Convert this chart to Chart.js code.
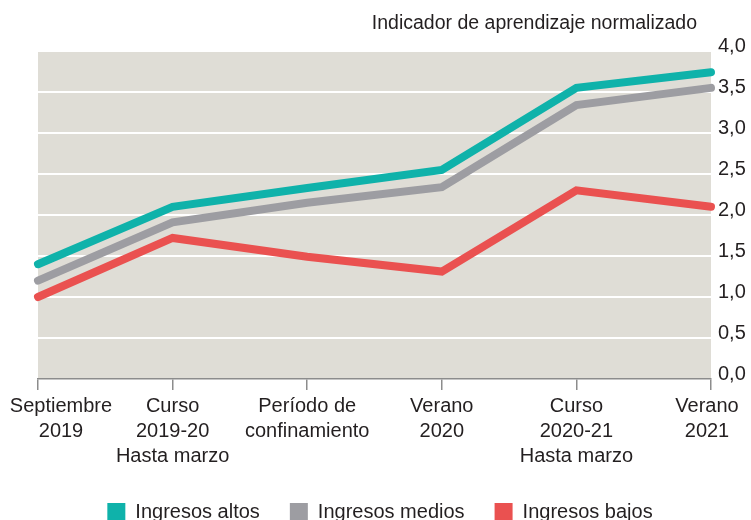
<!DOCTYPE html>
<html><head><meta charset="utf-8">
<script src="https://cdn.jsdelivr.net/npm/chart.js@4"></script>
<style>html,body{margin:0;padding:0;background:#fff}#wrap{width:751px;height:520px;position:relative}</style>
</head><body><div id="wrap"><canvas id="c" width="751" height="520"></canvas></div>
<script>
const categories = [['Septiembre','2019'],['Curso','2019-20','Hasta marzo'],['Período de','confinamiento'],['Verano','2020'],['Curso','2020-21','Hasta marzo'],['Verano','2021']];
const ingresosAltos = [1.40, 2.10, 2.33, 2.55, 3.55, 3.74];
const ingresosMedios = [1.20, 1.91, 2.15, 2.34, 3.34, 3.55];
const ingresosBajos = [1.00, 1.72, 1.49, 1.31, 2.30, 2.10];
const yTickLabels = ['0,0','0,5','1,0','1,5','2,0','2,5','3,0','3,5','4,0'];
const seriesNames = ['Ingresos altos','Ingresos medios','Ingresos bajos'];
const seriesColors = ['#0fb2aa','#9d9da2','#ea5150'];
const axisTitle = 'Indicador de aprendizaje normalizado';

const FAMILY = "'Liberation Sans', Arial, sans-serif";
const TEXT = '#231f20';

const bgPlugin = {
  id: 'bg',
  beforeDraw(chart) {
    const {ctx, chartArea: a} = chart;
    ctx.save();
    ctx.fillStyle = '#dfddd6';
    ctx.fillRect(a.left, a.top, a.right - a.left, a.bottom - a.top);
    ctx.restore();
    const sx = chart.scales.x;
    const items = sx.getLabelItems(a);
    if (!items._shifted && items.length) {
      items[0].options.translation[0] += 23;
      items[items.length - 1].options.translation[0] -= 4;
      items._shifted = true;
    }
    const lg = chart.legend;
    if (lg && !lg._shifted) {
      const c = (lg.left + lg.right) / 2;
      const d = 380 - c;
      lg.left += d; lg.right += d;
      lg._shifted = true;
    }
  },
  afterDraw(chart) {
    const ctx = chart.ctx;
    ctx.save();
    ctx.font = "19.5px " + FAMILY;
    ctx.fillStyle = TEXT;
    ctx.textAlign = 'right';
    ctx.textBaseline = 'middle';
    ctx.fillText(axisTitle, 697, 24);
    ctx.restore();
  }
};

const datasets = [ingresosAltos, ingresosMedios, ingresosBajos].map((d, i) => ({
  label: seriesNames[i],
  data: d,
  borderColor: seriesColors[i],
  backgroundColor: seriesColors[i],
  borderWidth: 8,
  borderCapStyle: 'round',
  borderJoinStyle: 'miter',
  tension: 0,
  pointRadius: 0,
  pointHoverRadius: 0,
  clip: false
}));

new Chart(document.getElementById('c'), {
  type: 'line',
  data: { labels: categories, datasets },
  options: {
    responsive: false,
    devicePixelRatio: 1,
    animation: false,
    layout: { autoPadding: false, padding: { top: 51, left: 38, right: 0, bottom: -12 } },
    scales: {
      x: {
        type: 'category',
        offset: false,
        grid: { display: true, drawOnChartArea: false, drawTicks: true, tickLength: 11, color: '#8c8c8c', lineWidth: 1.5 },
        border: { display: true, color: '#8c8c8c', width: 1.5 },
        ticks: { font: { family: FAMILY, size: 20, lineHeight: 1.25 }, color: TEXT, padding: 4, maxRotation: 0, autoSkip: false },
        afterFit(s) { s.height = 93; s.paddingLeft = 0; s.paddingRight = 0; }
      },
      y: {
        position: 'right',
        min: 0, max: 4,
        ticks: {
          stepSize: 0.5, padding: 7, labelOffset: -5,
          callback: (v, i) => yTickLabels[i],
          font: { family: FAMILY, size: 20 }, color: TEXT
        },
        grid: { color: (c) => (c.tick && c.tick.value === 0) ? 'rgba(0,0,0,0)' : '#ffffff', lineWidth: 2, drawTicks: false },
        border: { display: false },
        afterFit(s) { s.width = 40; s.paddingTop = 0; s.paddingBottom = 0; }
      }
    },
    plugins: {
      tooltip: { enabled: false },
      legend: {
        position: 'bottom',
        labels: {
          boxWidth: 18, boxHeight: 18, padding: 30,
          font: { family: FAMILY, size: 20 }, color: TEXT,
          generateLabels: (chart) => chart.data.datasets.map((ds, i) => ({
            text: ds.label, fillStyle: ds.borderColor, strokeStyle: ds.borderColor,
            lineWidth: 0, hidden: false, datasetIndex: i, fontColor: TEXT
          }))
        }
      }
    }
  },
  plugins: [bgPlugin]
});
</script></body></html>
